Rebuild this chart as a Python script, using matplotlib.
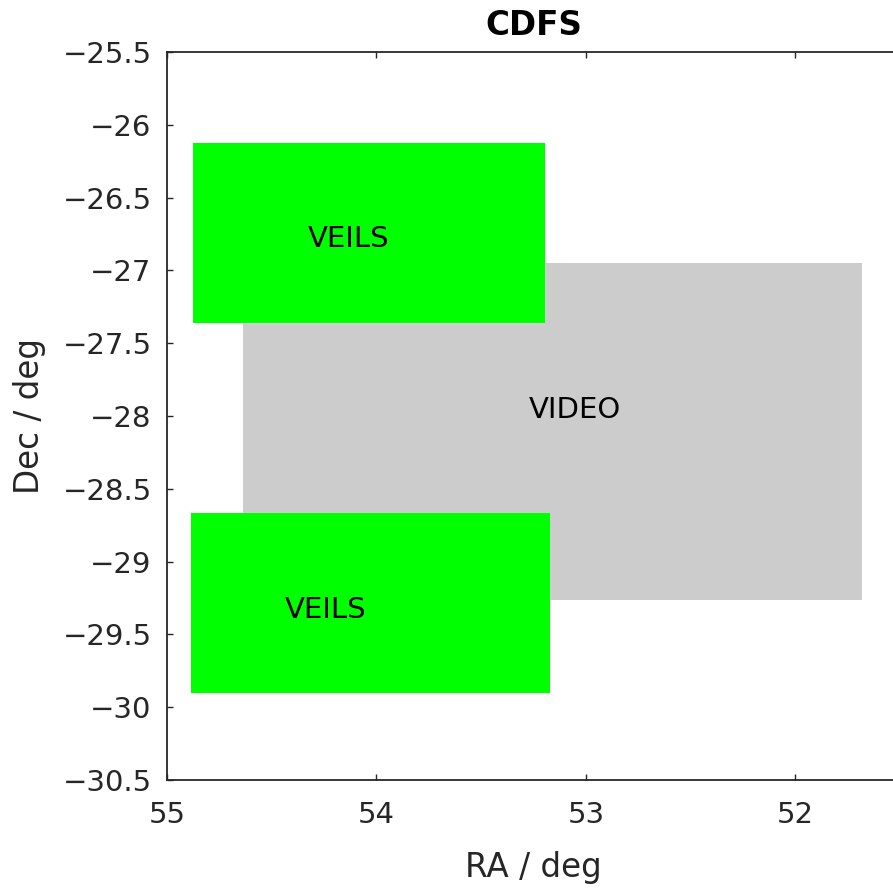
import matplotlib
matplotlib.use("Agg")
import matplotlib.pyplot as plt
from matplotlib.patches import Rectangle

# Field footprints (RA min, RA max, Dec min, Dec max)
field_names = ["VEILS", "VEILS", "VIDEO", "VIDEO"]
ra_min = [53.195, 53.171, 53.19, 51.681]
ra_max = [54.876, 54.885, 54.637, 53.25]
dec_min = [-27.361, -29.902, -28.75, -29.264]
dec_max = [-26.125, -28.666, -27.25, -26.949]
field_colors = {"VEILS": "#00ff00", "VIDEO": "#cccccc"}

# Label positions
label_text = ["VEILS", "VEILS", "VIDEO"]
label_ra = [54.327, 54.436, 53.271]
label_dec = [-26.781, -29.332, -27.959]

xticks = [55, 54, 53, 52]
yticks = [-25.5, -26, -26.5, -27, -27.5, -28, -28.5, -29, -29.5, -30, -30.5]
ytick_labels = ["\u221225.5", "\u221226", "\u221226.5", "\u221227", "\u221227.5", "\u221228",
                "\u221228.5", "\u221229", "\u221229.5", "\u221230", "\u221230.5"]

plt.rcParams["font.family"] = ["DejaVu Sans"]
axc = "#262626"

fig = plt.figure(figsize=(8.93, 8.88), dpi=100)
ax = fig.add_axes([167 / 893, 108 / 888, 733 / 893, 728 / 888])

# draw VIDEO first, VEILS on top
order = [2, 3, 0, 1]
for i in order:
    name = field_names[i]
    ax.add_patch(Rectangle((ra_min[i], dec_min[i]), ra_max[i] - ra_min[i],
                           dec_max[i] - dec_min[i], facecolor=field_colors[name],
                           edgecolor="none"))

for t, x, y in zip(label_text, label_ra, label_dec):
    ax.text(x, y, t, ha="left", va="center", fontsize=21, color="black")

ax.set_xlim(55, 51.5)
ax.set_ylim(-30.5, -25.5)
ax.set_xticks(xticks)
ax.set_xticklabels([str(v) for v in xticks])
ax.set_yticks(yticks)
ax.set_yticklabels(ytick_labels)

ax.tick_params(direction="in", length=4.5, width=1.0, color=axc, labelcolor=axc,
               labelsize=21, top=True, right=True)
ax.tick_params(axis="x", pad=15)
ax.tick_params(axis="y", pad=11)
for s in ax.spines.values():
    s.set_color(axc)
    s.set_linewidth(1.3)

ax.set_xlabel("RA / deg", fontsize=23.5, color=axc, labelpad=16)
ax.set_ylabel("Dec / deg", fontsize=23.5, color=axc, labelpad=12)
ax.set_title("CDFS", fontsize=23.5, fontweight="bold", color="black", pad=12)

fig.savefig("out.png", dpi=100)
